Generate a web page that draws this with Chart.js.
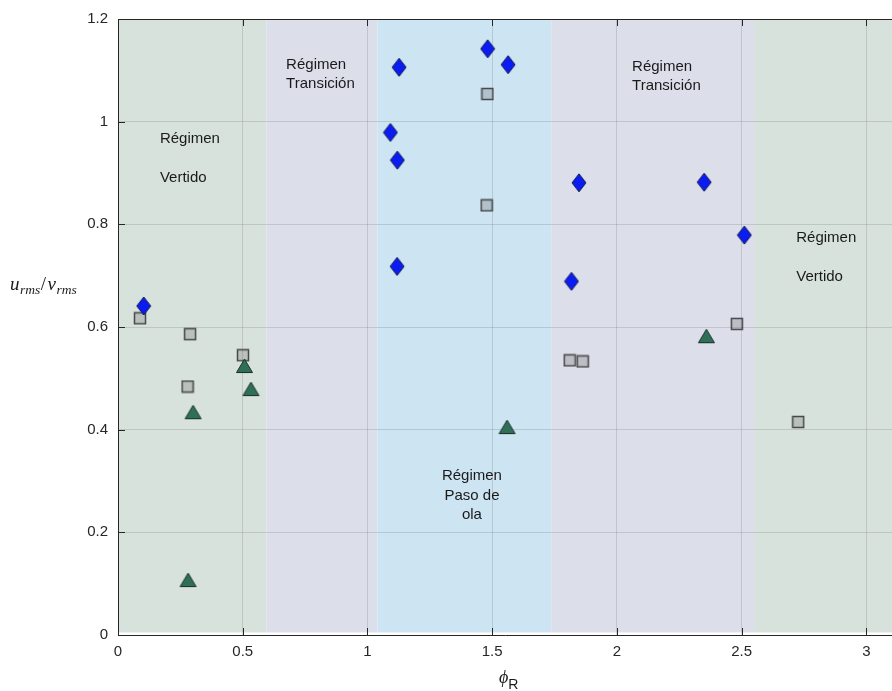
<!DOCTYPE html>
<html>
<head>
<meta charset="utf-8">
<script src="https://cdn.jsdelivr.net/npm/chart.js@4.4.1/dist/chart.umd.min.js"></script>
<style>
  html, body { margin: 0; padding: 0; background: #ffffff; overflow: hidden; }
  #wrap { position: relative; width: 892px; height: 691px; }
</style>
</head>
<body>
<div id="wrap"><canvas id="chart" width="892" height="691"></canvas></div>
<script>
// ---- data: phi_R (x) and u_rms/v_rms (y) for each marker group ----
const diamondX = [0.103, 1.127, 1.482, 1.564, 1.092, 1.120, 1.119, 1.848, 1.818, 2.350, 2.511];
const diamondY = [0.641, 1.106, 1.142, 1.111, 0.979, 0.925, 0.718, 0.881, 0.689, 0.882, 0.779];

const squareX = [0.088, 0.289, 0.501, 0.279, 1.481, 1.478, 1.811, 1.863, 2.481, 2.727];
const squareY = [0.617, 0.586, 0.545, 0.484, 1.054, 0.837, 0.535, 0.533, 0.606, 0.415];

const triangleX = [0.301, 0.507, 0.533, 0.281, 1.560, 2.359];
const triangleY = [0.434, 0.524, 0.479, 0.107, 0.405, 0.582];

// regime bands along phi_R
const bandStart = [0.0, 0.595, 1.04, 1.737, 2.55];
const bandEnd   = [0.595, 1.04, 1.737, 2.55, 3.2];
const bandKind  = ['vertido', 'transicion', 'paso', 'transicion', 'vertido'];

// tick values
const xTicks = [0, 0.5, 1, 1.5, 2, 2.5, 3];
const yTicks = [0, 0.2, 0.4, 0.6, 0.8, 1, 1.2];

// regime labels (anchor in data units)
const labelText = [
  ['Régimen', '', 'Vertido'],
  ['Régimen', 'Transición'],
  ['Régimen', 'Paso de', 'ola'],
  ['Régimen', 'Transición'],
  ['Régimen', '', 'Vertido']
];
const labelX = [0.168, 0.674, 1.419, 2.061, 2.719];
const labelY = [0.966, 1.111, 0.310, 1.107, 0.774];
const labelAlign = ['left', 'left', 'center', 'left', 'left'];

const bandColors = {
  vertido: '#d7e2dd',
  transicion: '#dcdfea',
  paso: '#cde4f2'
};

function toPoints(xs, ys) { return xs.map((x, i) => ({ x: x, y: ys[i] })); }

// marker glyphs
function makeMarker(w, h, draw) {
  const c = document.createElement('canvas');
  c.width = w; c.height = h;
  draw(c.getContext('2d'), w, h);
  return c;
}
const diamondMarker = makeMarker(16, 20, (g, w, h) => {
  g.beginPath();
  g.moveTo(w / 2, 1); g.lineTo(w - 1, h / 2); g.lineTo(w / 2, h - 1); g.lineTo(1, h / 2);
  g.closePath();
  g.fillStyle = '#0a1cf2'; g.fill();
  g.lineWidth = 1; g.strokeStyle = '#101a4a'; g.stroke();
});
const squareMarker = makeMarker(14, 14, (g) => {
  g.fillStyle = 'rgba(120,120,120,0.32)';
  g.fillRect(1.5, 1.5, 11, 11);
  g.lineWidth = 1.5; g.strokeStyle = 'rgba(50,50,50,0.85)';
  g.strokeRect(1.5, 1.5, 11, 11);
});
const triangleMarker = makeMarker(19, 16, (g, w, h) => {
  g.beginPath();
  g.moveTo(w / 2, 1); g.lineTo(w - 1.5, h - 1.5); g.lineTo(1.5, h - 1.5);
  g.closePath();
  g.fillStyle = '#2f6e57'; g.fill();
  g.lineWidth = 1; g.strokeStyle = '#1a3129'; g.stroke();
});

const AXIS_COLOR = '#262626';
const SANS = "'Liberation Sans', Arial, sans-serif";

const backdrop = {
  id: 'backdrop',
  beforeDraw(chart) {
    const { ctx, chartArea: a, scales: { x, y } } = chart;
    ctx.save();
    ctx.beginPath();
    ctx.rect(a.left, a.top, a.right - a.left, a.bottom - a.top);
    ctx.clip();
    const yTop = y.getPixelForValue(1.2);
    const yBot = y.getPixelForValue(0.005);
    bandStart.forEach((s, i) => {
      const x0 = x.getPixelForValue(s);
      const x1 = x.getPixelForValue(bandEnd[i]);
      ctx.fillStyle = bandColors[bandKind[i]];
      ctx.fillRect(x0, yTop, x1 - x0, yBot - yTop);
    });
    ctx.restore();
  }
};

const frame = {
  id: 'frame',
  afterDraw(chart) {
    const { ctx, chartArea: a, scales: { x, y } } = chart;
    ctx.save();
    ctx.strokeStyle = AXIS_COLOR;
    ctx.lineWidth = 1;
    // top box edge
    ctx.beginPath();
    ctx.moveTo(a.left, a.top + 0.5); ctx.lineTo(a.right, a.top + 0.5);
    ctx.stroke();
    // inward tick marks
    ctx.beginPath();
    xTicks.forEach(v => {
      const px = Math.round(x.getPixelForValue(v)) + 0.5;
      ctx.moveTo(px, a.bottom); ctx.lineTo(px, a.bottom - 7);
      ctx.moveTo(px, a.top); ctx.lineTo(px, a.top + 7);
    });
    yTicks.forEach(v => {
      const py = Math.round(y.getPixelForValue(v)) + 0.5;
      ctx.moveTo(a.left, py); ctx.lineTo(a.left + 7, py);
    });
    ctx.stroke();

    // regime labels
    ctx.fillStyle = '#1a1a1a';
    ctx.font = "15px " + SANS;
    ctx.textBaseline = 'middle';
    labelText.forEach((lines, i) => {
      const px = x.getPixelForValue(labelX[i]);
      const py = y.getPixelForValue(labelY[i]);
      ctx.textAlign = labelAlign[i];
      lines.forEach((t, k) => ctx.fillText(t, px, py + k * 19.5));
    });

    // y-axis title: u_rms / v_rms
    ctx.textAlign = 'left';
    ctx.textBaseline = 'alphabetic';
    let cx = 10;
    const base = 290;
    const big = "italic 19px 'Liberation Serif', 'DejaVu Serif', serif";
    const small = "italic 13.5px 'Liberation Serif', 'DejaVu Serif', serif";
    const parts = [
      ['u', big, 0], ['rms', small, 4], ['/', "19px 'Liberation Serif', serif", 0],
      ['v', big, 0], ['rms', small, 4]
    ];
    parts.forEach(([t, f, dy]) => {
      ctx.font = f;
      ctx.fillText(t, cx, base + dy);
      cx += ctx.measureText(t).width + (t === '/' ? 1.5 : 0.5);
    });

    // x-axis title: phi_R
    ctx.font = "italic 18px 'Liberation Serif', 'DejaVu Serif', serif";
    ctx.fillText('\u03d5', 499, 683);
    const w = ctx.measureText('\u03d5').width;
    ctx.font = "14px " + SANS;
    ctx.fillText('R', 499 + w, 689);
    ctx.restore();
  }
};

new Chart(document.getElementById('chart'), {
  type: 'scatter',
  data: {
    datasets: [
      { label: 'diamante', data: toPoints(diamondX, diamondY), pointStyle: diamondMarker },
      { label: 'triángulo', data: toPoints(triangleX, triangleY), pointStyle: triangleMarker },
      { label: 'cuadrado', data: toPoints(squareX, squareY), pointStyle: squareMarker }
    ]
  },
  options: {
    responsive: false,
    animation: false,
    devicePixelRatio: 1,
    layout: { autoPadding: false, padding: { top: 16, left: 0, right: 0, bottom: 0 } },
    plugins: { legend: { display: false }, tooltip: { enabled: false } },
    elements: { point: { radius: 8, hoverRadius: 8 } },
    scales: {
      x: {
        type: 'linear',
        min: 0, max: 3.103,
        afterFit(s) { s.height = 56; },
        afterBuildTicks(s) { s.ticks = xTicks.map(v => ({ value: v })); },
        ticks: {
          includeBounds: false, padding: 8, color: AXIS_COLOR, font: { family: SANS, size: 15 },
          callback: v => String(v)
        },
        grid: { color: 'rgba(38,38,38,0.15)', drawTicks: false },
        border: { color: AXIS_COLOR, width: 1 }
      },
      y: {
        type: 'linear',
        min: 0, max: 1.2,
        afterFit(s) { s.width = 118; },
        afterBuildTicks(s) { s.ticks = yTicks.map(v => ({ value: v })); },
        ticks: {
          padding: 10, color: AXIS_COLOR, font: { family: SANS, size: 15 },
          callback: v => String(v)
        },
        grid: { color: 'rgba(38,38,38,0.15)', drawTicks: false },
        border: { color: AXIS_COLOR, width: 1 }
      }
    }
  },
  plugins: [backdrop, frame]
});
</script>
</body>
</html>
